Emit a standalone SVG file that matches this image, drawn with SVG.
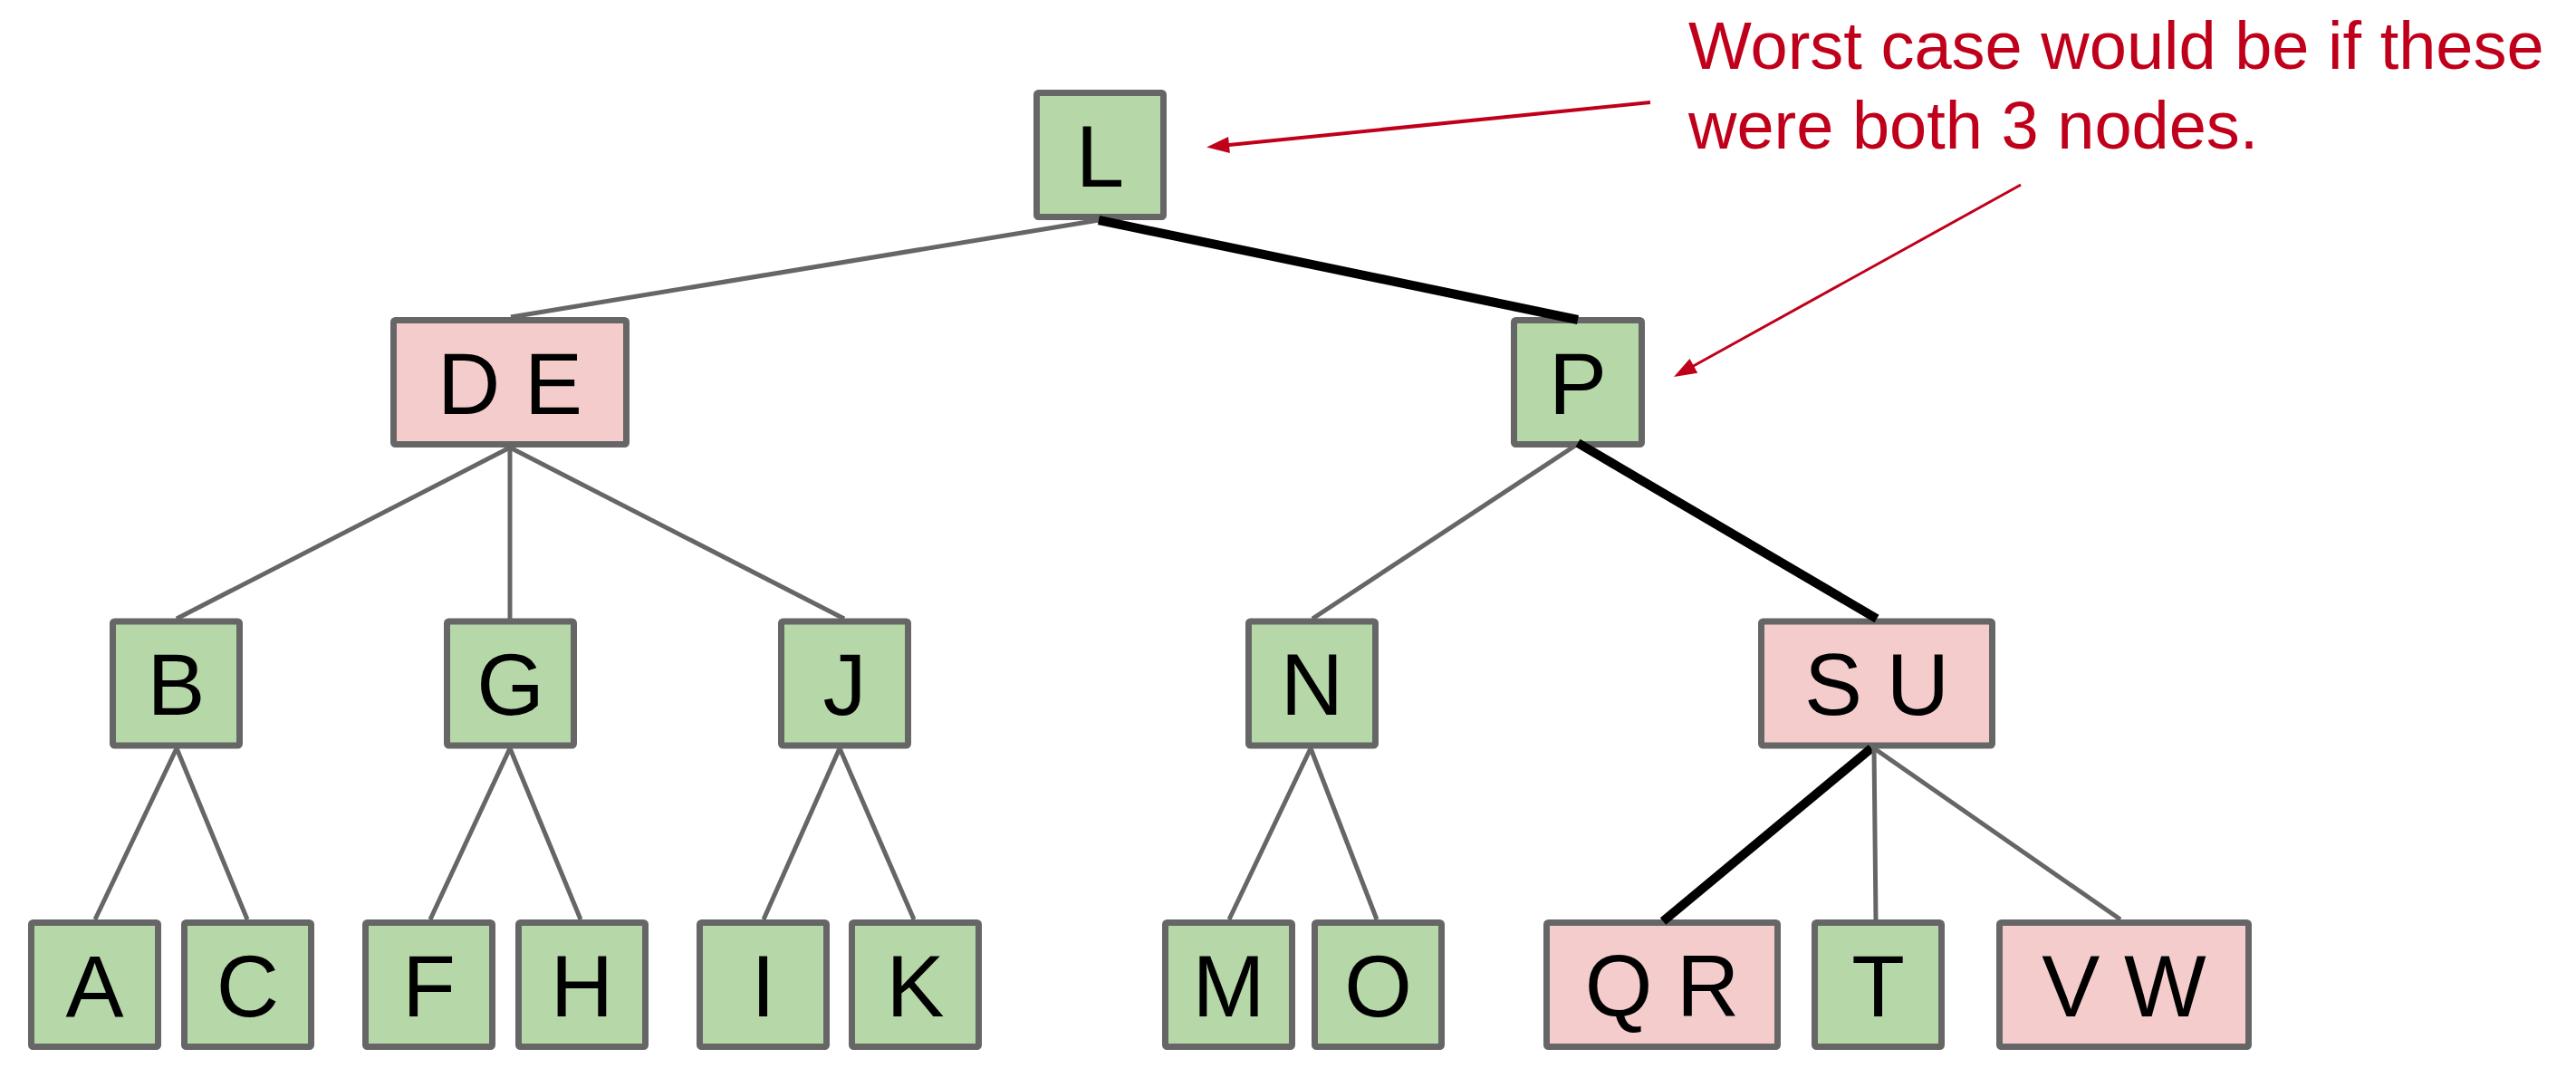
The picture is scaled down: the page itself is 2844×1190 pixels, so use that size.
<svg xmlns="http://www.w3.org/2000/svg" width="2844" height="1190" viewBox="0 0 2844 1190">
<style>
.g rect{fill:#b6d7a8}
.p rect{fill:#f4cccc}
.g rect,.p rect{stroke:#666666;stroke-width:7}
.lbl{font-family:"Liberation Sans",Arial,sans-serif;font-size:96px;fill:#000;text-anchor:middle}
.gl{stroke:#666666;stroke-width:5;fill:none}
.bl{stroke:#000;stroke-width:10;fill:none}
.note{font-family:"Liberation Sans",Arial,sans-serif;font-size:74px;fill:#c0001b}
.ar{stroke:#c0001b;fill:none}
</style>
<defs>
<marker id="ah" markerUnits="userSpaceOnUse" markerWidth="32" markerHeight="24" viewBox="-6 -12 32 24" refX="0" refY="0" orient="auto">
<path d="M20,0 L-5,-9 L-5,9 Z" fill="#c0001b"/>
</marker>
</defs>
<g id="nodes">
<g id="node-L" class="g"><rect x="1144.5" y="102.5" width="140" height="137" rx="2"/><text class="lbl" x="1214.5" y="205.5">L</text></g>
<g id="node-DE" class="p"><rect x="434.5" y="353.5" width="257" height="137" rx="2"/><text class="lbl" x="563" y="456.5">D E</text></g>
<g id="node-P" class="g"><rect x="1671.5" y="353.5" width="141" height="137" rx="2"/><text class="lbl" x="1742" y="456.5">P</text></g>
<g id="node-B" class="g"><rect x="124.5" y="686" width="140" height="137" rx="2"/><text class="lbl" x="194.5" y="789">B</text></g>
<g id="node-G" class="g"><rect x="493.5" y="686" width="140" height="137" rx="2"/><text class="lbl" x="563.5" y="789">G</text></g>
<g id="node-J" class="g"><rect x="862.5" y="686" width="140" height="137" rx="2"/><text class="lbl" x="932.5" y="789">J</text></g>
<g id="node-N" class="g"><rect x="1378.5" y="686" width="140" height="137" rx="2"/><text class="lbl" x="1448.5" y="789">N</text></g>
<g id="node-SU" class="p"><rect x="1944.5" y="686" width="255" height="137" rx="2"/><text class="lbl" x="2072" y="789">S U</text></g>
<g id="node-A" class="g"><rect x="34.5" y="1018.5" width="140" height="137" rx="2"/><text class="lbl" x="104.5" y="1121.5">A</text></g>
<g id="node-C" class="g"><rect x="203.5" y="1018.5" width="140" height="137" rx="2"/><text class="lbl" x="273.5" y="1121.5">C</text></g>
<g id="node-F" class="g"><rect x="403.5" y="1018.5" width="140" height="137" rx="2"/><text class="lbl" x="473.5" y="1121.5">F</text></g>
<g id="node-H" class="g"><rect x="572.5" y="1018.5" width="140" height="137" rx="2"/><text class="lbl" x="642.5" y="1121.5">H</text></g>
<g id="node-I" class="g"><rect x="772.5" y="1018.5" width="140" height="137" rx="2"/><text class="lbl" x="842.5" y="1121.5">I</text></g>
<g id="node-K" class="g"><rect x="940.5" y="1018.5" width="140" height="137" rx="2"/><text class="lbl" x="1010.5" y="1121.5">K</text></g>
<g id="node-M" class="g"><rect x="1286.5" y="1018.5" width="140" height="137" rx="2"/><text class="lbl" x="1356.5" y="1121.5">M</text></g>
<g id="node-O" class="g"><rect x="1451.5" y="1018.5" width="140" height="137" rx="2"/><text class="lbl" x="1521.5" y="1121.5">O</text></g>
<g id="node-QR" class="p"><rect x="1707.5" y="1018.5" width="255" height="137" rx="2"/><text class="lbl" x="1835" y="1121.5">Q R</text></g>
<g id="node-T" class="g"><rect x="2003.5" y="1018.5" width="140" height="137" rx="2"/><text class="lbl" x="2073.5" y="1121.5">T</text></g>
<g id="node-VW" class="p"><rect x="2207.5" y="1018.5" width="275" height="137" rx="2"/><text class="lbl" x="2345" y="1121.5">V W</text></g>
</g>
<g id="connectors">
<line class="gl" x1="1213" y1="243" x2="564" y2="350"/>
<line class="bl" x1="1213" y1="243" x2="1742" y2="353"/>
<line class="gl" x1="563" y1="494" x2="195" y2="683"/>
<line class="gl" x1="563" y1="494" x2="563" y2="683"/>
<line class="gl" x1="563" y1="494" x2="932" y2="683"/>
<line class="gl" x1="1742" y1="490" x2="1449" y2="683"/>
<line class="bl" x1="1742" y1="489" x2="2072" y2="683"/>
<line class="gl" x1="195" y1="826" x2="105" y2="1015"/>
<line class="gl" x1="195" y1="826" x2="273" y2="1015"/>
<line class="gl" x1="563" y1="826" x2="475" y2="1015"/>
<line class="gl" x1="563" y1="826" x2="641" y2="1015"/>
<line class="gl" x1="927" y1="826" x2="843" y2="1015"/>
<line class="gl" x1="927" y1="826" x2="1009" y2="1015"/>
<line class="gl" x1="1447" y1="826" x2="1357" y2="1015"/>
<line class="gl" x1="1447" y1="826" x2="1520" y2="1015"/>
<line class="bl" x1="2066" y1="826" x2="1836" y2="1017"/>
<line class="gl" x1="2069" y1="826" x2="2071" y2="1015"/>
<line class="gl" x1="2069" y1="826" x2="2341" y2="1015"/>
</g>
<g id="annotation">
<text class="note" x="1864" y="76">Worst case would be if these</text>
<text class="note" x="1864" y="164">were both 3 nodes.</text>
<line class="ar" stroke-width="4" x1="1822" y1="113" x2="1352" y2="160.5" marker-end="url(#ah)"/>
<line class="ar" stroke-width="3" x1="2231" y1="204" x2="1865.5" y2="406.3" marker-end="url(#ah)"/>
</g>
</svg>
